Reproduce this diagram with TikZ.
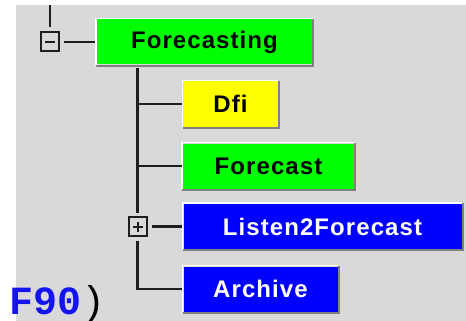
\documentclass[tikz,border=0pt]{standalone}
\usepackage{fontspec}
\newfontfamily\boxfont[LetterSpace=4.5]{Liberation Sans}
\newfontfamily\monobold{Liberation Mono}
\definecolor{bggray}{RGB}{217,217,217}
\definecolor{boxshade}{RGB}{128,128,128}
\definecolor{treeline}{RGB}{30,30,30}
\definecolor{nodegreen}{RGB}{0,255,0}
\definecolor{nodeyellow}{RGB}{255,255,0}
\definecolor{nodeblue}{RGB}{0,0,255}
\definecolor{f90blue}{RGB}{20,20,240}
\tikzset{
  tbox/.style={rectangle, inner sep=0pt, minimum height=45,
    font=\boxfont\bfseries\fontsize{24}{28}\selectfont},
  greenbox/.style={tbox, fill=nodegreen, text=black},
  yellowbox/.style={tbox, fill=nodeyellow, text=black},
  bluebox/.style={tbox, fill=nodeblue, text=white},
  expander/.style={rectangle, draw=treeline, line width=2pt, fill=bggray,
    minimum width=18, minimum height=19, inner sep=0pt},
  treeedge/.style={draw=treeline, line width=2.2pt},
}
\newcommand{\bevel}[1]{%
  \draw[white, line width=1.5pt] ([xshift=-0.75pt,yshift=-0.75pt]#1.south west) |- ([xshift=0.75pt,yshift=0.75pt]#1.north east);
  \draw[boxshade, line width=2pt] ([xshift=-0.75pt,yshift=-1pt]#1.south west) -| ([xshift=1pt,yshift=0.75pt]#1.north east);
}
\begin{document}
\begin{tikzpicture}[x=1pt, y=-1pt]
\useasboundingbox (0,0) rectangle (466,321);
\fill[white] (0,0) rectangle (466,321);
\fill[bggray] (16,5) rectangle (466,321);

% nodes
\node[greenbox, minimum width=215] (forecasting) at (204.5,42) {Forecasting};
\node[yellowbox, minimum width=94] (dfi) at (230.5,104) {Dfi};
\node[greenbox, minimum width=171] (forecast) at (268.5,166) {Forecast};
\node[bluebox, minimum width=278] (listen) at (322.5,226.5) {Listen2Forecast};
\node[bluebox, minimum width=154] (archive) at (260.5,289) {Archive};
\bevel{forecasting}
\bevel{dfi}
\bevel{forecast}
\bevel{listen}
\bevel{archive}

% expanders
\node[expander] (minus) at (50,42) {};
\draw[treeline, line width=2pt] ([xshift=-5pt]minus.center) -- ([xshift=5pt]minus.center);
\node[expander] (plus) at (137.5,226.5) {};
\draw[treeline, line width=2pt] ([xshift=-5pt]plus.center) -- ([xshift=5pt]plus.center)
  ([yshift=-5pt]plus.center) -- ([yshift=5pt]plus.center);

% tree connectors
\coordinate (roottop) at (50,5);
\coordinate (trunktop) at (137.5,68);
\draw[treeedge] (roottop) -- ([yshift=4pt]minus.north);
\draw[treeedge] ([xshift=4pt]minus.east) -- ([xshift=-2pt]minus.east -| forecasting.west);
\draw[treeedge] (trunktop) -- ([yshift=3pt]plus.north);
\draw[treeedge] (trunktop |- dfi.west) -- ([xshift=-1pt]dfi.west);
\draw[treeedge] (trunktop |- forecast.west) -- ([xshift=-1pt]forecast.west);
\draw[treeedge] ([xshift=4pt]plus.east) -- ([xshift=-1pt]plus.east -| listen.west);
\draw[treeedge] ([yshift=-4pt]plus.south) |- ([xshift=-1pt]archive.west);

% bottom-left text
\node[anchor=base west, inner sep=0pt, font=\monobold\fontsize{40}{44}\selectfont] (f90) at (9,314) {\textcolor{f90blue}{\bfseries F90}\textcolor{black}{)}};
\end{tikzpicture}
\end{document}
